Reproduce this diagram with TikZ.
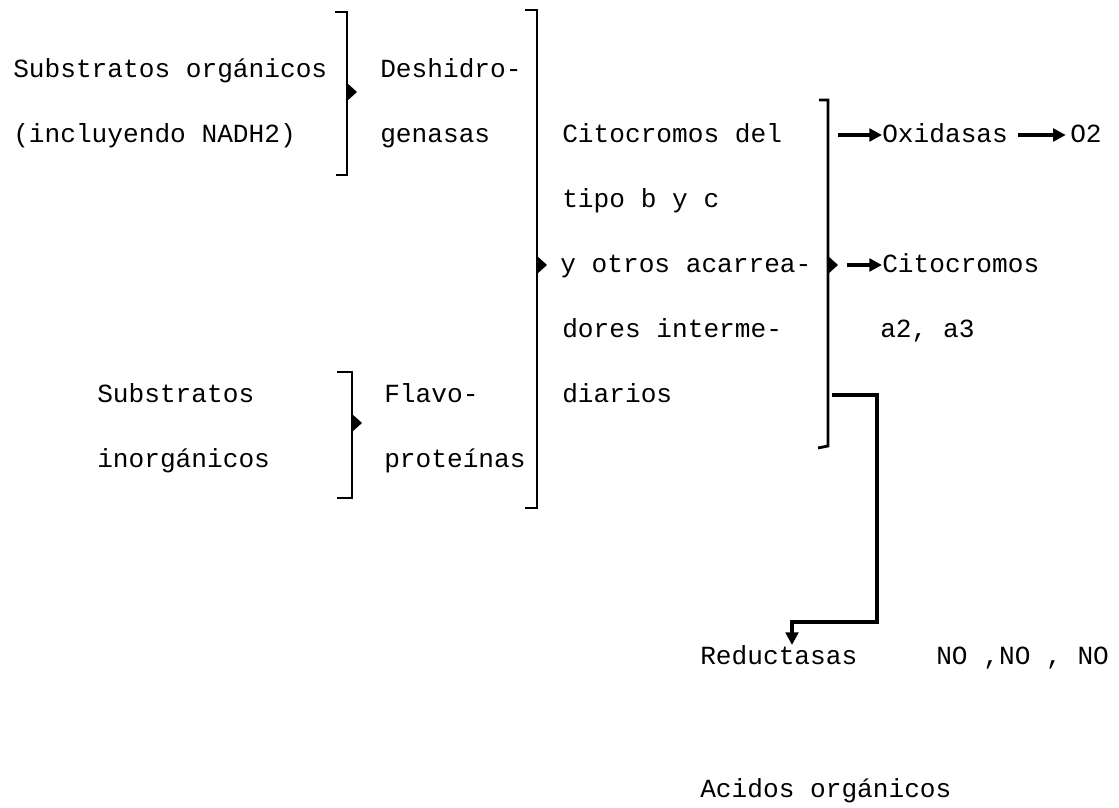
\documentclass[tikz,border=0pt]{standalone}
\usepackage{fontspec}
\setmonofont{Liberation Mono}
\usetikzlibrary{arrows.meta}
\tikzset{
  lbl/.style={font=\ttfamily\fontsize{18.6}{22}\selectfont, anchor=west, inner sep=0pt,
    text height=13pt, text depth=3pt},
  brace/.style={line width=2pt},
  link/.style={line width=2.4pt, -{Triangle[length=9pt,width=9pt]}},
}
\newcommand{\bracetip}[1]{\fill (#1) ++(0,-9) -- ++(10,9) -- ++(-10,9) -- cycle;}
\begin{document}
\begin{tikzpicture}[x=0.025cm,y=-0.025cm]
  \fill[white] (0,0) rectangle (1119,808);
  \useasboundingbox (0,0) rectangle (1119,808);
  % texts, rows at 70, 135, 200, 265, 330, 395, 460
  \node[lbl] (orga)  at (13,70)   {Substratos orgánicos};
  \node[lbl] (nadh)  at (13,135)  {(incluyendo NADH2)};
  \node[lbl] (deshi) at (380,70)  {Deshidro-};
  \node[lbl] (genas) at (380,135) {genasas};
  \node[lbl] (cit1)  at (562,135) {Citocromos del};
  \node[lbl] (cit2)  at (562,200) {tipo b y c};
  \node[lbl] (cit3)  at (560,265) {y otros acarrea-};
  \node[lbl] (cit4)  at (562,330) {dores interme-};
  \node[lbl] (cit5)  at (562,395) {diarios};
  \node[lbl] (inor1) at (97,395)  {Substratos};
  \node[lbl] (inor2) at (97,460)  {inorgánicos};
  \node[lbl] (flav1) at (384,395) {Flavo-};
  \node[lbl] (flav2) at (384,460) {proteínas};
  \node[lbl] (oxid)  at (882,135) {Oxidasas};
  \node[lbl] (oxig)  at (1070,135) {O2};
  \node[lbl] (cita1) at (882,265) {Citocromos};
  \node[lbl] (cita2) at (880,330) {a2, a3};
  \node[lbl] (reduc) at (700,657) {Reductasas};
  \node[lbl] (nitro) at (936,657) {NO ,NO , NO};
  \node[lbl] (acid)  at (700,790) {Acidos orgánicos};
  % brackets
  \draw[brace] (335,12) -- (347,12) -- (347,175) -- (336,175);
  \bracetip{347,92}
  \draw[brace] (525,10) -- (537,10) -- (537,508) -- (525,508);
  \bracetip{537,265}
  \draw[brace] (819,100) -- (828,100) -- (828,446) -- (818,448);
  \bracetip{828,265}
  \draw[brace] (337,372) -- (352,372) -- (352,498) -- (337,498);
  \bracetip{352,423}
  % connectors
  \coordinate (ox0) at (838,135);
  \coordinate (ci0) at (847,265);
  \coordinate (re0) at (832,395);
  \coordinate (re1) at (877,622);
  \coordinate (re2) at (792,645);
  \draw[link] (ox0) -- (oxid);
  \draw[link, shorten <=7pt, shorten >=3pt] (oxid) -- (oxig);
  \draw[link] (ci0) -- (cita1);
  \draw[link] (re0) -| (re1) -| (re2);
\end{tikzpicture}
\end{document}
